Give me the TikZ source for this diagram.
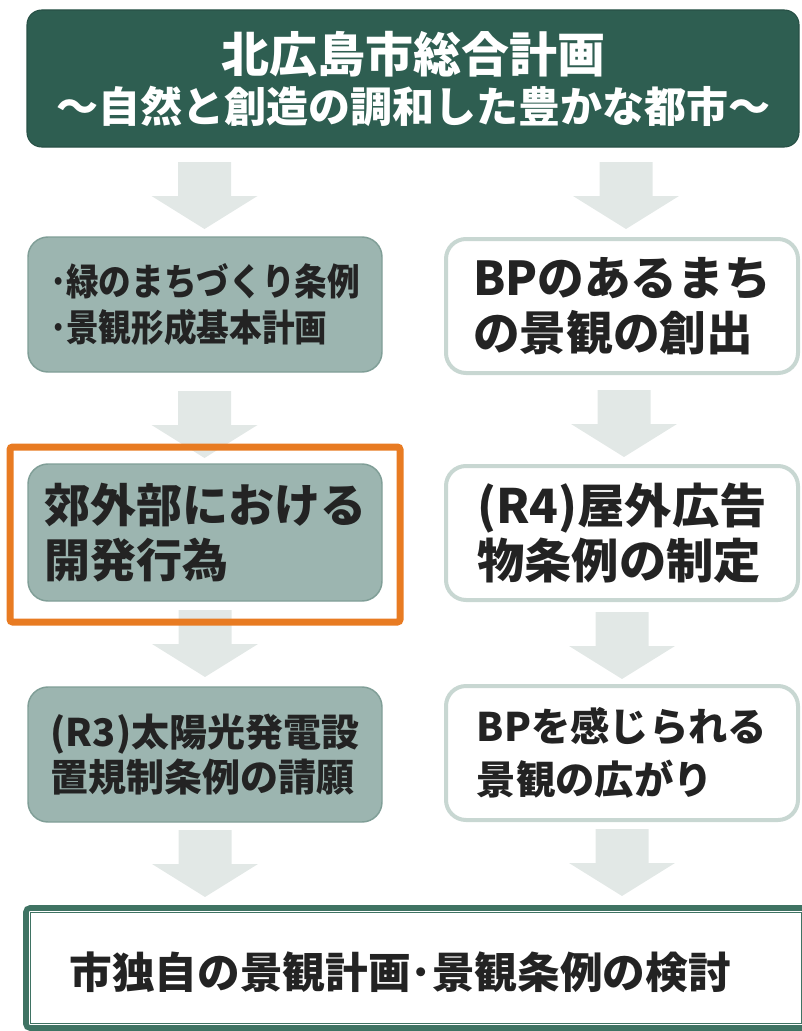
\documentclass[tikz,border=0pt]{standalone}
\usepackage{fontspec}
\newfontfamily\jp{Noto Sans CJK JP}
\newfontfamily\jpc{Noto Sans CJK JP}[FakeStretch=0.88]
\definecolor{topgreen}{RGB}{46,94,81}
\definecolor{lfill}{RGB}{156,181,176}
\definecolor{lborder}{RGB}{128,158,151}
\definecolor{rborder}{RGB}{200,215,210}
\definecolor{arrowc}{RGB}{226,232,230}
\definecolor{hlorange}{RGB}{232,123,34}
\definecolor{botgreen}{RGB}{63,115,99}
\definecolor{ink}{RGB}{35,35,35}
\begin{document}
\begin{tikzpicture}[x=0.75pt,y=-0.75pt,
  topbox/.style={fill=topgreen, draw=topgreen!85!black, line width=0.8pt, rounded corners=11pt,
    minimum width=579pt, minimum height=102.75pt, inner sep=0pt, text=white, align=center,
    font=\jp\bfseries\fontsize{31.5pt}{37.5pt}\selectfont},
  lbox/.style={fill=lfill, draw=lborder, line width=1.1pt, rounded corners=15pt,
    minimum width=265.5pt, inner sep=0pt, text=ink, align=left},
  rbox/.style={fill=white, draw=rborder, line width=3pt, rounded corners=15pt,
    minimum width=264pt, minimum height=100.5pt, inner sep=0pt, text=ink, align=left},
  hlframe/.style={draw=hlorange, line width=5.25pt, rounded corners=2pt,
    minimum width=292.5pt, minimum height=131.25pt, inner sep=0pt},
  botbox/.style={draw=botgreen, line width=4.2pt, rounded corners=3pt, fill=white,
    minimum width=585pt, minimum height=90pt, inner sep=0pt},
  bigarrow/.pic={\fill[arrowc] (-26.5,0) -- (26.5,0) -- (26.5,34) -- (53,34) -- (0,67)
    -- (-53,34) -- (-26.5,34) -- cycle;}
]
\useasboundingbox (0,0) rectangle (801,1031);

% block arrows (drawn first, under the boxes)
\path (204.5,162) pic {bigarrow};
\path (626,162) pic {bigarrow};
\path (204.5,391) pic {bigarrow};
\path (624,390) pic {bigarrow};
\path (205,610) pic {bigarrow};
\path (622,612) pic {bigarrow};
\path (205,830) pic {bigarrow};
\path (622,829) pic {bigarrow};

% top box
\node[topbox] (top) at (413,78.5)
  {{\fontsize{36pt}{37.5pt}\selectfont 北広島市総合計画}\\～自然と創造の調和した豊かな都市～};

% left column
\node[lbox, minimum height=101.25pt, font=\jpc\bfseries\fontsize{27.8pt}{34pt}\selectfont]
  (l1) at (205,304.5) {･緑のまちづくり条例\\･景観形成基本計画};
\node[lbox, minimum height=102.75pt, font=\jp\bfseries\fontsize{34.5pt}{41pt}\selectfont]
  (l2) at (205,532.5) {郊外部における\\開発行為};
\node[lbox, minimum height=101.25pt, font=\jp\bfseries\fontsize{28.5pt}{34pt}\selectfont]
  (l3) at (205,754.5) {(R3)太陽光発電設\\置規制条例の請願};

% right column
\node[rbox, font=\jp\bfseries\fontsize{35pt}{41pt}\selectfont]
  (r1) at (622,306) {BPのあるまち\\の景観の創出};
\node[rbox, font=\jp\bfseries\fontsize{35.5pt}{41pt}\selectfont]
  (r2) at (622,533) {(R4)屋外広告\\物条例の制定};
\node[rbox, font=\jp\bfseries\fontsize{29.5pt}{40pt}\selectfont]
  (r3) at (622,753) {BPを感じられる\\景観の広がり};

% orange highlight frame
\node[hlframe] (hl) at (205,534.5) {};

% bottom box
\node[botbox] (bot) at (416,968) {};
\draw[botgreen, line width=1.2pt]
  ([xshift=5.6pt,yshift=-5.6pt]bot.north west) rectangle ([xshift=-5.6pt,yshift=5.6pt]bot.south east);
\node[text=ink, inner sep=0pt, font=\jp\bfseries\fontsize{32pt}{38pt}\selectfont]
  (bt) at (400,972) {市独自の景観計画･景観条例の検討};
\end{tikzpicture}
\end{document}
